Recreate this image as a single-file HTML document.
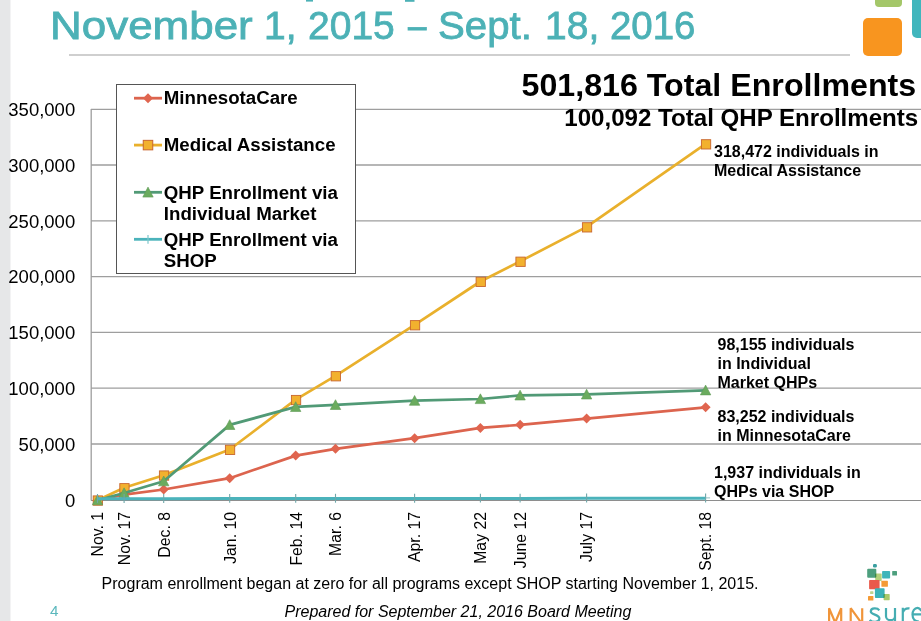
<!DOCTYPE html>
<html><head><meta charset="utf-8">
<style>
html,body{margin:0;padding:0;background:#fff;}
body{width:921px;height:621px;position:relative;overflow:hidden;font-family:"Liberation Sans",sans-serif;}
.abs{position:absolute;white-space:nowrap;}
.tt{position:absolute;top:1.3px;font-size:39px;line-height:50px;-webkit-text-stroke:0.8px #4cb1b6;color:#4cb1b6;white-space:nowrap;transform-origin:0 0;}
.yl{position:absolute;right:845.8px;font-size:18.5px;line-height:22px;color:#000;}
.xl{position:absolute;top:512px;width:18px;line-height:18px;font-size:15.8px;writing-mode:vertical-rl;transform:rotate(180deg);white-space:nowrap;color:#000;}
.lab{position:absolute;font-weight:bold;font-size:16px;line-height:19.2px;color:#000;white-space:nowrap;}
.leg{position:absolute;left:163.8px;font-weight:bold;font-size:18.7px;line-height:21px;color:#000;white-space:nowrap;}
</style></head><body>
<div class="abs" style="left:0;top:0;width:10px;height:621px;background:#e6e7e8"></div>
<div class="abs" style="left:10px;top:0;width:1px;height:621px;background:#f3f3f4"></div>
<div class="abs" style="left:69px;top:54px;width:781px;height:2px;background:#cfcfcf"></div>
<div class="tt" style="left:50.0px;transform:scaleX(1.127)">November</div>
<div class="tt" style="left:264px;transform:scaleX(1.0)">1,</div>
<div class="tt" style="left:308px;transform:scaleX(1.0)">2015</div>
<div class="tt" style="left:407.7px;transform:scaleX(0.85)">–</div>
<div class="tt" style="left:438.1px;transform:scaleX(1.03)">Sept.</div>
<div class="tt" style="left:545px;transform:scaleX(1.0)">18,</div>
<div class="tt" style="left:609.9px;transform:scaleX(0.985)">2016</div>
<div class="abs" style="left:875px;top:-6px;width:27px;height:13px;background:#a4c769;border-radius:4px"></div>
<div class="abs" style="left:863px;top:18px;width:39px;height:38px;background:#f8951f;border-radius:5px"></div>
<div class="abs" style="left:911.7px;top:-6px;width:20px;height:44px;background:#41b6bd;border-radius:5px"></div>
<svg width="921" height="621" viewBox="0 0 921 621" style="position:absolute;left:0;top:0">
<line x1="91" y1="109.3" x2="921" y2="109.3" stroke="#9e9e9e" stroke-width="1.3"/>
<line x1="91" y1="165.0" x2="921" y2="165.0" stroke="#9e9e9e" stroke-width="1.3"/>
<line x1="91" y1="220.8" x2="921" y2="220.8" stroke="#9e9e9e" stroke-width="1.3"/>
<line x1="91" y1="276.6" x2="921" y2="276.6" stroke="#9e9e9e" stroke-width="1.3"/>
<line x1="91" y1="332.4" x2="921" y2="332.4" stroke="#9e9e9e" stroke-width="1.3"/>
<line x1="91" y1="388.2" x2="921" y2="388.2" stroke="#9e9e9e" stroke-width="1.3"/>
<line x1="91" y1="444.0" x2="921" y2="444.0" stroke="#9e9e9e" stroke-width="1.3"/>
<line x1="91" y1="500.5" x2="921" y2="500.5" stroke="#8e8e8e" stroke-width="1.2"/>
<line x1="91.2" y1="109" x2="91.2" y2="500.6" stroke="#9e9e9e" stroke-width="1.3"/>
<polyline points="97.5,500.2 124.1,494.7 163.7,489.5 229.7,478.2 295.7,455.6 335.5,448.8 414.6,438.2 480.4,427.9 520.1,424.8 586.6,418.6 705.6,407.3" fill="none" stroke="#dc644e" stroke-width="2.7" stroke-linejoin="round"/>
<polygon points="97.5,495.2 102.5,500.2 97.5,505.2 92.5,500.2" fill="#e0654f"/>
<polygon points="124.1,489.7 129.1,494.7 124.1,499.7 119.1,494.7" fill="#e0654f"/>
<polygon points="163.7,484.5 168.7,489.5 163.7,494.5 158.7,489.5" fill="#e0654f"/>
<polygon points="229.7,473.2 234.7,478.2 229.7,483.2 224.7,478.2" fill="#e0654f"/>
<polygon points="295.7,450.6 300.7,455.6 295.7,460.6 290.7,455.6" fill="#e0654f"/>
<polygon points="335.5,443.8 340.5,448.8 335.5,453.8 330.5,448.8" fill="#e0654f"/>
<polygon points="414.6,433.2 419.6,438.2 414.6,443.2 409.6,438.2" fill="#e0654f"/>
<polygon points="480.4,422.9 485.4,427.9 480.4,432.9 475.4,427.9" fill="#e0654f"/>
<polygon points="520.1,419.8 525.1,424.8 520.1,429.8 515.1,424.8" fill="#e0654f"/>
<polygon points="586.6,413.6 591.6,418.6 586.6,423.6 581.6,418.6" fill="#e0654f"/>
<polygon points="705.6,402.3 710.6,407.3 705.6,412.3 700.6,407.3" fill="#e0654f"/>
<polyline points="97.5,500.2 124.1,487.8 163.7,475.2 229.7,449.5 295.7,399.7 335.5,375.9 414.6,324.8 480.4,281.5 520.1,261.4 586.6,226.9 705.6,143.9" fill="none" stroke="#e9b02c" stroke-width="2.7" stroke-linejoin="round"/>
<rect x="93.2" y="495.9" width="9.3" height="9.3" fill="#f2b12e" stroke="#c8662e" stroke-width="0.9"/>
<rect x="119.8" y="483.6" width="9.3" height="9.3" fill="#f2b12e" stroke="#c8662e" stroke-width="0.9"/>
<rect x="159.4" y="470.9" width="9.3" height="9.3" fill="#f2b12e" stroke="#c8662e" stroke-width="0.9"/>
<rect x="225.4" y="445.2" width="9.3" height="9.3" fill="#f2b12e" stroke="#c8662e" stroke-width="0.9"/>
<rect x="291.4" y="395.4" width="9.3" height="9.3" fill="#f2b12e" stroke="#c8662e" stroke-width="0.9"/>
<rect x="331.2" y="371.6" width="9.3" height="9.3" fill="#f2b12e" stroke="#c8662e" stroke-width="0.9"/>
<rect x="410.4" y="320.6" width="9.3" height="9.3" fill="#f2b12e" stroke="#c8662e" stroke-width="0.9"/>
<rect x="476.1" y="277.2" width="9.3" height="9.3" fill="#f2b12e" stroke="#c8662e" stroke-width="0.9"/>
<rect x="515.9" y="257.1" width="9.3" height="9.3" fill="#f2b12e" stroke="#c8662e" stroke-width="0.9"/>
<rect x="582.4" y="222.7" width="9.3" height="9.3" fill="#f2b12e" stroke="#c8662e" stroke-width="0.9"/>
<rect x="701.4" y="139.7" width="9.3" height="9.3" fill="#f2b12e" stroke="#c8662e" stroke-width="0.9"/>
<polyline points="97.5,500.2 124.1,493.0 163.7,481.2 229.7,424.9 295.7,406.9 335.5,404.9 414.6,400.7 480.4,399.0 520.1,395.4 586.6,394.4 705.6,390.3" fill="none" stroke="#519a76" stroke-width="2.7" stroke-linejoin="round"/>
<polygon points="97.5,495.0 102.7,504.8 92.3,504.8" fill="#6aab5e" stroke="#5f9a55" stroke-width="0.6"/>
<polygon points="124.1,487.8 129.29999999999998,497.6 118.89999999999999,497.6" fill="#6aab5e" stroke="#5f9a55" stroke-width="0.6"/>
<polygon points="163.7,476.0 168.89999999999998,485.8 158.5,485.8" fill="#6aab5e" stroke="#5f9a55" stroke-width="0.6"/>
<polygon points="229.7,419.7 234.89999999999998,429.5 224.5,429.5" fill="#6aab5e" stroke="#5f9a55" stroke-width="0.6"/>
<polygon points="295.7,401.7 300.9,411.5 290.5,411.5" fill="#6aab5e" stroke="#5f9a55" stroke-width="0.6"/>
<polygon points="335.5,399.7 340.7,409.5 330.3,409.5" fill="#6aab5e" stroke="#5f9a55" stroke-width="0.6"/>
<polygon points="414.6,395.5 419.8,405.3 409.40000000000003,405.3" fill="#6aab5e" stroke="#5f9a55" stroke-width="0.6"/>
<polygon points="480.4,393.8 485.59999999999997,403.6 475.2,403.6" fill="#6aab5e" stroke="#5f9a55" stroke-width="0.6"/>
<polygon points="520.1,390.2 525.3000000000001,400.0 514.9,400.0" fill="#6aab5e" stroke="#5f9a55" stroke-width="0.6"/>
<polygon points="586.6,389.2 591.8000000000001,399.0 581.4,399.0" fill="#6aab5e" stroke="#5f9a55" stroke-width="0.6"/>
<polygon points="705.6,385.1 710.8000000000001,394.90000000000003 700.4,394.90000000000003" fill="#6aab5e" stroke="#5f9a55" stroke-width="0.6"/>
<line x1="705.6" y1="497.9" x2="710.1" y2="497.9" stroke="#8fbfc2" stroke-width="1"/>
<polyline points="97.5,498.7 124.1,498.7 163.7,498.7 229.7,498.6 295.7,498.6 335.5,498.5 414.6,498.5 480.4,498.4 520.1,498.4 586.6,498.3 705.6,498.2" fill="none" stroke="#4bb3bb" stroke-width="3"/>
<line x1="97.5" y1="494.0" x2="97.5" y2="502.9" stroke="#6fa7aa" stroke-width="1.1"/>
<line x1="124.1" y1="494.0" x2="124.1" y2="502.9" stroke="#6fa7aa" stroke-width="1.1"/>
<line x1="163.7" y1="494.0" x2="163.7" y2="502.9" stroke="#6fa7aa" stroke-width="1.1"/>
<line x1="229.7" y1="493.90000000000003" x2="229.7" y2="502.8" stroke="#6fa7aa" stroke-width="1.1"/>
<line x1="295.7" y1="493.90000000000003" x2="295.7" y2="502.8" stroke="#6fa7aa" stroke-width="1.1"/>
<line x1="335.5" y1="493.8" x2="335.5" y2="502.7" stroke="#6fa7aa" stroke-width="1.1"/>
<line x1="414.6" y1="493.8" x2="414.6" y2="502.7" stroke="#6fa7aa" stroke-width="1.1"/>
<line x1="480.4" y1="493.7" x2="480.4" y2="502.59999999999997" stroke="#6fa7aa" stroke-width="1.1"/>
<line x1="520.1" y1="493.7" x2="520.1" y2="502.59999999999997" stroke="#6fa7aa" stroke-width="1.1"/>
<line x1="586.6" y1="493.6" x2="586.6" y2="502.5" stroke="#6fa7aa" stroke-width="1.1"/>
<line x1="705.6" y1="493.5" x2="705.6" y2="502.4" stroke="#6fa7aa" stroke-width="1.1"/>
<rect x="116.5" y="84.5" width="239" height="189" fill="#fff" stroke="#555" stroke-width="1"/>
<line x1="134" y1="98.2" x2="162" y2="98.2" stroke="#dc644e" stroke-width="2.8"/>
<polygon points="148,93.2 153,98.2 148,103.2 143,98.2" fill="#e0654f"/>
<line x1="134" y1="145.1" x2="162" y2="145.1" stroke="#e9b02c" stroke-width="2.8"/>
<rect x="143.25" y="140.35" width="9.5" height="9.5" fill="#f2b12e" stroke="#c8662e" stroke-width="1"/>
<line x1="134" y1="192.3" x2="162" y2="192.3" stroke="#519a76" stroke-width="2.8"/>
<polygon points="148,187.10000000000002 153.2,197.10000000000002 142.8,197.10000000000002" fill="#6aab5e" stroke="#5f9a55" stroke-width="0.6"/>
<line x1="134" y1="239.3" x2="162" y2="239.3" stroke="#4bb3bb" stroke-width="2.8"/>
<line x1="148" y1="235.0" x2="148" y2="243.8" stroke="#7cc6cb" stroke-width="1.2"/>
</svg>
<div class="yl" style="top:99.1px">350,000</div>
<div class="yl" style="top:154.8px">300,000</div>
<div class="yl" style="top:210.6px">250,000</div>
<div class="yl" style="top:266.4px">200,000</div>
<div class="yl" style="top:322.2px">150,000</div>
<div class="yl" style="top:378.0px">100,000</div>
<div class="yl" style="top:433.8px">50,000</div>
<div class="yl" style="top:490.0px">0</div>
<div class="abs" style="left:521.5px;top:65px;font-size:32.2px;line-height:40px;font-weight:bold;color:#000">501,816 Total Enrollments</div>
<div class="abs" style="left:564.3px;top:103.9px;font-size:24.1px;line-height:28px;font-weight:bold;color:#000">100,092 Total QHP Enrollments</div>
<div class="leg" style="top:87px">MinnesotaCare</div>
<div class="leg" style="top:134px">Medical Assistance</div>
<div class="leg" style="top:182px">QHP Enrollment via<br>Individual Market</div>
<div class="leg" style="top:229px">QHP Enrollment via<br>SHOP</div>
<div class="lab" style="left:714px;top:142px">318,472 individuals in<br>Medical Assistance</div>
<div class="lab" style="left:717.5px;top:335px">98,155 individuals<br>in Individual<br>Market QHPs</div>
<div class="lab" style="left:717.5px;top:407px">83,252 individuals<br>in MinnesotaCare</div>
<div class="lab" style="left:714px;top:462.6px">1,937 individuals in<br>QHPs via SHOP</div>
<div class="xl" style="left:89.3px">Nov. 1</div>
<div class="xl" style="left:115.9px">Nov. 17</div>
<div class="xl" style="left:155.5px">Dec. 8</div>
<div class="xl" style="left:221.5px">Jan. 10</div>
<div class="xl" style="left:287.5px">Feb. 14</div>
<div class="xl" style="left:327.3px">Mar. 6</div>
<div class="xl" style="left:406.4px">Apr. 17</div>
<div class="xl" style="left:472.2px">May 22</div>
<div class="xl" style="left:511.9px">June 12</div>
<div class="xl" style="left:578.4px">July 17</div>
<div class="xl" style="left:697.4px">Sept. 18</div>
<div class="abs" style="left:101.6px;top:573.6px;font-size:16px;line-height:19px;color:#000">Program enrollment began at zero for all programs except SHOP starting November 1, 2015.</div>
<div class="abs" style="left:284.5px;top:601.8px;font-size:16px;line-height:19px;font-style:italic;color:#000">Prepared for September 21, 2016 Board Meeting</div>

<svg width="921" height="621" viewBox="0 0 921 621" style="position:absolute;left:0;top:0">
<g style="mix-blend-mode:multiply">
<rect x="873" y="564" width="3.8" height="3.4" rx="1.2" fill="#3a9fa0"/>
<rect x="867.2" y="568.7" width="9.1" height="9.1" rx="1" fill="#4d9f7e"/>
<rect x="882.1" y="570.9" width="8" height="7.6" rx="0.8" fill="#3db5ba"/>
<rect x="892.2" y="570.9" width="4.8" height="4.7" rx="0.6" fill="#4d9f7e"/>
<rect x="875.2" y="573.4" width="6.5" height="7.6" rx="0.6" fill="#b4d07c" style="mix-blend-mode:multiply"/>
<rect x="869.1" y="579.9" width="10.5" height="9.4" rx="0.8" fill="#e9594b"/>
<rect x="881.4" y="580.7" width="6.5" height="6.1" rx="0.6" fill="#f49a35"/>
<rect x="870.1" y="591.2" width="3.3" height="2.9" rx="0.5" fill="#bcd38e"/>
<rect x="874.9" y="588.3" width="9.7" height="9.7" rx="0.8" fill="#3bb3b8"/>
<rect x="883.6" y="594.1" width="6.1" height="6.1" rx="0.6" fill="#a9c96b" style="mix-blend-mode:multiply"/>
<rect x="868" y="595.9" width="5.4" height="4.7" rx="0.6" fill="#f49a35"/>
</g>
<g fill="none" stroke-width="2.2" stroke-linejoin="bevel">
<path d="M829.1,625 V608.2 L835.2,622.5 L841.2,608.2 V625" stroke="#f0953a"/>
<path d="M850.7,625 V608.2 L862.2,624 V608.2" stroke="#f0953a"/>
<path d="M879.3,610.3 C877.5,607.8 871,607.5 870.8,611.4 C870.8,615 879.4,614.3 879.4,618.6 C879.4,622.5 872,622.7 869.8,619.8" stroke="#45adb2"/>
<path d="M886,608 V616.2 C886,621.5 895,621.5 895,616.2 M895,608 V622" stroke="#45adb2"/>
<path d="M902.8,607.8 V622 M902.8,612.5 C904,609 906.5,608 909.5,608.4" stroke="#45adb2"/>
<path d="M912.5,614.4 H921.5 M921.5,611 C920,608.5 918.5,607.8 917.5,607.8 C914.5,607.8 912.5,611 912.5,614.5 C912.5,619 915,621.5 919,621.5" stroke="#45adb2"/>
</g>
<g fill="#4cb1b6"><rect x="306" y="0" width="7" height="1.6"/><rect x="405" y="0" width="9.5" height="1.8"/></g>
</svg>

<div class="abs" style="left:50px;top:601.5px;font-size:15.3px;line-height:17px;color:#5bb8bd">4</div>
</body></html>
